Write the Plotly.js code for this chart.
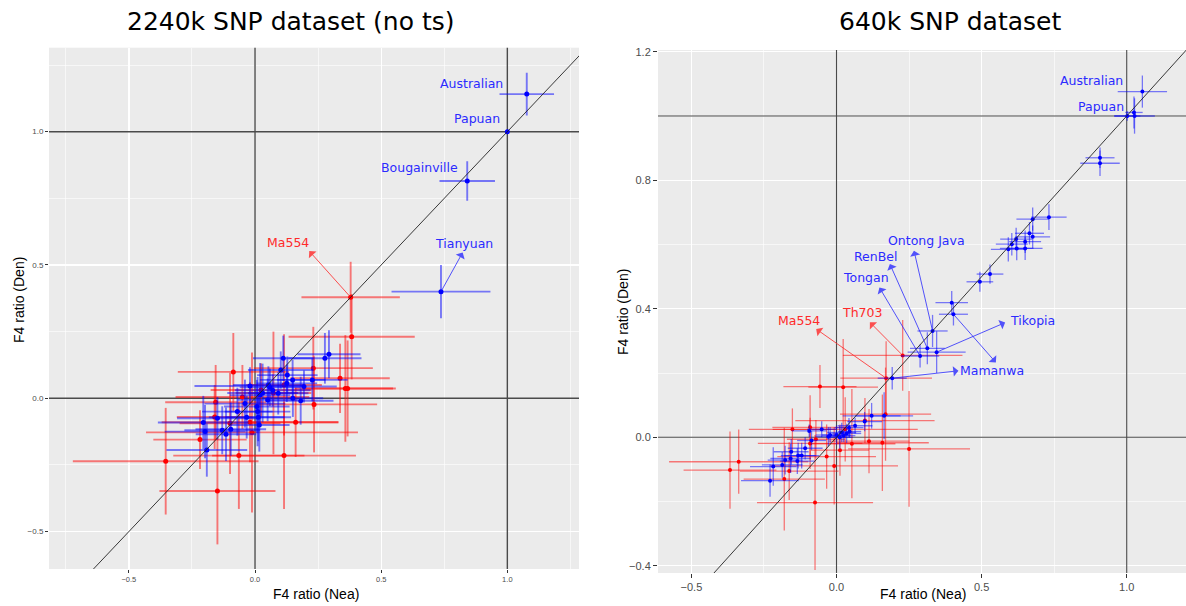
<!DOCTYPE html>
<html><head><meta charset="utf-8">
<script src="https://cdn.plot.ly/plotly-3.0.1.min.js"></script>
<style>html,body{margin:0;padding:0;background:#fff;}#chart{width:1186px;height:606px;}</style>
</head><body><div id="chart"></div>
<script>
// ---------- Left panel: 2240k SNP dataset (no ts) ----------
const leftBlueX  = [1.077, 1.0, 0.841, 0.737, 0.293, 0.277, 0.112, 0.102, 0.128, 0.149, 0.126, 0.194, 0.227, 0.181, -0.020, 0.053, 0.020, 0.050, 0.007, -0.033, -0.070, -0.149, -0.205, -0.198, -0.115, -0.096, -0.191, 0.013, 0.092, 0.059, 0.017, 0.030, -0.040, 0.010, -0.130, 0.070, 0.150];
const leftBlueY  = [1.141, 1.0, 0.815, 0.400, 0.165, 0.150, 0.150, 0.106, 0.087, 0.069, 0.056, 0.044, 0.069, -0.009, 0.046, 0.050, 0.012, -0.006, -0.031, -0.071, -0.050, -0.075, -0.091, -0.125, -0.135, -0.116, -0.194, -0.071, 0.019, 0.041, -0.100, 0.020, -0.020, -0.050, -0.120, 0.030, 0.000];
const leftBlueXE = [0.108, 0, 0.110, 0.196, 0.125, 0.145, 0.120, 0.130, 0.120, 0.130, 0.120, 0.130, 0.140, 0.130, 0.220, 0.140, 0.120, 0.120, 0.130, 0.150, 0.140, 0.160, 0.180, 0.160, 0.120, 0.140, 0.160, 0.130, 0.120, 0.120, 0.120, 0.140, 0.160, 0.130, 0.150, 0.150, 0.120];
const leftBlueYE = [0.080, 0, 0.074, 0.100, 0.090, 0.095, 0.085, 0.070, 0.070, 0.075, 0.070, 0.060, 0.080, 0.090, 0.070, 0.070, 0.120, 0.080, 0.100, 0.080, 0.090, 0.080, 0.100, 0.100, 0.100, 0.100, 0.100, 0.090, 0.080, 0.070, 0.100, 0.110, 0.090, 0.130, 0.090, 0.060, 0.070];

const leftRedX  = [0.379, 0.383, 0.358, 0.367, 0.337, 0.234, 0.231, 0.161, 0.115, -0.064, -0.086, -0.156, -0.354, -0.149, -0.218, -0.012, -0.050, 0.024, 0.115, -0.020, -0.160, 0.073, -0.099];
const leftRedY  = [0.379, 0.231, 0.037, 0.037, 0.075, -0.023, 0.113, -0.090, -0.215, -0.215, 0.099, -0.015, -0.236, -0.348, -0.155, -0.128, 0.005, 0.031, 0.050, -0.090, -0.070, 0.020, -0.094];
const leftRedXE = [0.195, 0.250, 0.200, 0.180, 0.197, 0.250, 0.236, 0.170, 0.285, 0.260, 0.220, 0.200, 0.368, 0.230, 0.185, 0.420, 0.265, 0.200, 0.150, 0.350, 0.150, 0.150, 0.200];
const leftRedYE = [0.133, 0.160, 0.200, 0.180, 0.130, 0.180, 0.155, 0.130, 0.200, 0.200, 0.146, 0.140, 0.200, 0.200, 0.110, 0.300, 0.120, 0.100, 0.190, 0.150, 0.120, 0.230, 0.190];

const leftLabelText  = ["Australian", "Papuan", "Bougainville", "Tianyuan", "Ma554"];
const leftLabelX     = [0.859, 0.881, 0.651, 0.828, 0.132];
const leftLabelY     = [1.181, 1.049, 0.866, 0.581, 0.584];
const leftLabelColor = ["blue", "blue", "blue", "blue", "red"];
// arrows: from sample point (tail) to label (head)
const leftArrowTailX = [0.379, 0.737];
const leftArrowTailY = [0.379, 0.400];
const leftArrowHeadX = [0.215, 0.823];
const leftArrowHeadY = [0.552, 0.547];
const leftArrowColor = ["red", "blue"];

// ---------- Right panel: 640k SNP dataset ----------
const rightBlueX  = [1.054, 1.002, 1.025, 1.027, 0.908, 0.908, 0.676, 0.732, 0.665, 0.676, 0.650, 0.619, 0.604, 0.592, 0.621, 0.650, 0.494, 0.529, 0.397, 0.403, 0.331, 0.313, 0.288, 0.345, 0.192, 0.164, 0.121, 0.097, 0.064, 0.043, 0.035, 0.018, 0.011, 0.000, -0.022, -0.028, -0.051, -0.086, -0.094, -0.108, -0.132, -0.120, -0.135, -0.156, -0.158, -0.177, -0.187, -0.218, -0.229, 0.025, 0.045];
const rightBlueY  = [1.076, 1.000, 1.011, 1.000, 0.870, 0.853, 0.679, 0.685, 0.635, 0.624, 0.609, 0.617, 0.601, 0.585, 0.588, 0.588, 0.484, 0.508, 0.419, 0.383, 0.331, 0.277, 0.253, 0.265, 0.184, 0.067, 0.067, 0.049, 0.036, 0.030, 0.012, 0.015, 0.000, 0.007, 0.007, 0.002, 0.025, -0.010, 0.020, -0.034, -0.057, -0.057, -0.074, -0.045, -0.066, -0.071, -0.086, -0.091, -0.135, 0.005, 0.018];
const rightBlueXE = [0.085, 0.045, 0.030, 0.070, 0.050, 0.068, 0.056, 0.061, 0.050, 0.060, 0.055, 0.055, 0.055, 0.060, 0.058, 0.060, 0.046, 0.046, 0.056, 0.050, 0.052, 0.060, 0.066, 0.100, 0.050, 0.100, 0.100, 0.060, 0.060, 0.050, 0.050, 0.050, 0.045, 0.050, 0.050, 0.045, 0.050, 0.050, 0.060, 0.060, 0.060, 0.060, 0.060, 0.060, 0.070, 0.060, 0.070, 0.080, 0.100, 0.040, 0.040];
const rightBlueYE = [0.050, 0.015, 0.050, 0.055, 0.032, 0.040, 0.036, 0.040, 0.035, 0.035, 0.035, 0.035, 0.035, 0.038, 0.037, 0.036, 0.031, 0.030, 0.036, 0.035, 0.050, 0.050, 0.036, 0.065, 0.035, 0.073, 0.040, 0.030, 0.025, 0.030, 0.030, 0.030, 0.035, 0.030, 0.025, 0.030, 0.025, 0.030, 0.020, 0.035, 0.040, 0.040, 0.040, 0.040, 0.045, 0.045, 0.040, 0.060, 0.050, 0.020, 0.020];

const rightRedX  = [0.171, 0.228, -0.057, 0.023, 0.169, 0.158, 0.112, 0.250, 0.098, 0.012, -0.008, -0.034, -0.074, -0.152, -0.091, -0.091, -0.071, -0.163, -0.180, -0.367, -0.337, 0.030, 0.053];
const rightRedY  = [0.184, 0.255, 0.158, 0.156, 0.072, -0.017, -0.012, -0.036, 0.052, -0.040, -0.089, -0.060, -0.203, 0.025, 0.031, -0.019, -0.006, -0.105, -0.130, -0.102, -0.076, 0.025, -0.020];
const rightRedXE = [0.158, 0.206, 0.126, 0.120, 0.157, 0.160, 0.140, 0.210, 0.240, 0.100, 0.220, 0.170, 0.200, 0.150, 0.130, 0.180, 0.100, 0.170, 0.140, 0.160, 0.240, 0.250, 0.150];
const rightRedYE = [0.115, 0.110, 0.067, 0.150, 0.145, 0.150, 0.100, 0.180, 0.070, 0.080, 0.120, 0.100, 0.210, 0.065, 0.100, 0.080, 0.060, 0.090, 0.160, 0.120, 0.100, 0.100, 0.170];

const rightLabelText  = ["Australian", "Papuan", "Ontong Java", "RenBel", "Tongan", "Tikopia", "Mamanwa", "Th703", "Ma554"];
const rightLabelX     = [0.878, 0.911, 0.311, 0.135, 0.101, 0.674, 0.536, 0.087, -0.128];
const rightLabelY     = [1.109, 1.031, 0.612, 0.564, 0.498, 0.365, 0.209, 0.390, 0.363];
const rightLabelColor = ["blue", "blue", "blue", "blue", "blue", "blue", "blue", "red", "red"];
const rightArrowTailX = [0.331, 0.313, 0.288, 0.345, 0.403, 0.192, 0.228, 0.171];
const rightArrowTailY = [0.331, 0.277, 0.253, 0.265, 0.383, 0.184, 0.255, 0.184];
const rightArrowHeadX = [0.267, 0.184, 0.148, 0.581, 0.549, 0.420, 0.115, -0.070];
const rightArrowHeadY = [0.581, 0.539, 0.466, 0.357, 0.233, 0.207, 0.358, 0.337];
const rightArrowColor = ["blue", "blue", "blue", "blue", "blue", "blue", "red", "red"];

const refLines = [0, 1];
const diagonal = [-3, 3];

// ---------- styles ----------
const COL = {
  red:  {pt: "#ff0000", bar: "rgba(255,0,0,0.5)", txt: "#ff2a2a", arr: "rgba(255,40,40,0.8)"},
  blue: {pt: "#0000ff", bar: "rgba(0,0,255,0.5)", txt: "#2b2bff", arr: "rgba(30,30,255,0.75)"}
};

function errTrace(x, y, xe, ye, c, xa, ya, thick, size) {
  return {
    type: "scatter", mode: "markers", x: x, y: y, xaxis: xa, yaxis: ya,
    marker: {color: COL[c].pt, size: size},
    error_x: {type: "data", array: xe, visible: true, color: COL[c].bar, thickness: thick, width: 0},
    error_y: {type: "data", array: ye, visible: true, color: COL[c].bar, thickness: thick, width: 0},
    hoverinfo: "skip", showlegend: false
  };
}

// reference lines and the y = x diagonal as line traces
function lineTrace(x, y, xa, ya, color, w) {
  return {type: "scatter", mode: "lines", x: x, y: y, xaxis: xa, yaxis: ya, cliponaxis: true,
          line: {color: color, width: w}, hoverinfo: "skip", showlegend: false};
}
function refTraces(xa, ya, w) {
  const out = [];
  refLines.forEach(v => {
    out.push(lineTrace([v, v], diagonal, xa, ya, "#4a4a4a", w));
    out.push(lineTrace(diagonal, [v, v], xa, ya, "#4a4a4a", w));
  });
  return out;
}

const data = [].concat(
  refTraces("x", "y", 1.4),
  refTraces("x2", "y2", 1.1),
  [
    errTrace(leftRedX, leftRedY, leftRedXE, leftRedYE, "red", "x", "y", 1.9, 5),
    errTrace(leftBlueX, leftBlueY, leftBlueXE, leftBlueYE, "blue", "x", "y", 1.9, 5),
    errTrace(rightRedX, rightRedY, rightRedXE, rightRedYE, "red", "x2", "y2", 1.3, 4),
    errTrace(rightBlueX, rightBlueY, rightBlueXE, rightBlueYE, "blue", "x2", "y2", 1.3, 4),
    lineTrace(diagonal, diagonal, "x", "y", "#222222", 0.9),
    lineTrace(diagonal, diagonal, "x2", "y2", "#222222", 0.9)
  ]
);

const annotations = [];
const labelFont = "DejaVu Sans, sans-serif";
function addLabels(texts, xs, ys, cols, xa, ya) {
  texts.forEach((t, i) => annotations.push({
    text: t, x: xs[i], y: ys[i], xref: xa, yref: ya, showarrow: false,
    xanchor: "center", yanchor: "middle", font: {family: labelFont, size: 12.5, color: COL[cols[i]].txt}
  }));
}
function addArrows(tx, ty, hx, hy, cols, xa, ya) {
  tx.forEach((v, i) => annotations.push({
    text: "", x: hx[i], y: hy[i], ax: tx[i], ay: ty[i], xref: xa, yref: ya, axref: xa, ayref: ya,
    showarrow: true, arrowhead: 1, arrowsize: 1.7, arrowwidth: 1, arrowcolor: COL[cols[i]].arr,
    standoff: 0, startstandoff: 0
  }));
}
addLabels(leftLabelText, leftLabelX, leftLabelY, leftLabelColor, "x", "y");
addArrows(leftArrowTailX, leftArrowTailY, leftArrowHeadX, leftArrowHeadY, leftArrowColor, "x", "y");
addLabels(rightLabelText, rightLabelX, rightLabelY, rightLabelColor, "x2", "y2");
addArrows(rightArrowTailX, rightArrowTailY, rightArrowHeadX, rightArrowHeadY, rightArrowColor, "x2", "y2");

const titleFont = {family: "DejaVu Sans, sans-serif", size: 25, color: "#000"};
const axFont = {family: "Liberation Sans, Arial, sans-serif", size: 14, color: "#000"};
function paperText(t, x, ypx, font, angle) {
  annotations.push({text: t, xref: "paper", yref: "paper", x: x / 1186, y: 1 - ypx / 606,
    showarrow: false, xanchor: "center", yanchor: "middle", font: font, textangle: angle || 0});
}
paperText("2240k SNP dataset (no ts)", 291, 21, titleFont);
paperText("640k SNP dataset", 950, 21, titleFont);
paperText("F4 ratio (Nea)", 316, 594, axFont);
paperText("F4 ratio (Nea)", 923, 594, axFont);
paperText("F4 ratio (Den)", 19, 300, axFont, -90);
paperText("F4 ratio (Den)", 623, 312, axFont, -90);

function axis(domain, range, dtick, minor, fsize, tlen, anchor) {
  return {
    domain: domain, range: range, anchor: anchor, tick0: 0, dtick: dtick, tickformat: ".1f",
    showgrid: true, gridcolor: "#ffffff", gridwidth: 1.3, zeroline: false, showline: false,
    ticks: "outside", ticklen: tlen, tickwidth: 1, tickcolor: "#333333",
    tickfont: {family: "Liberation Sans, Arial, sans-serif", size: fsize, color: "#4d4d4d"},
    minor: {dtick: minor, tick0: 0, showgrid: true, gridcolor: "#ffffff", gridwidth: 0.6, ticks: ""},
    fixedrange: true
  };
}

const layout = {
  width: 1186, height: 606, margin: {l: 0, r: 0, t: 0, b: 0},
  paper_bgcolor: "#ffffff", plot_bgcolor: "#EBEBEB", showlegend: false,
  xaxis:  axis([49 / 1186, 579 / 1186], [-0.8165, 1.284], 0.5, 0.25, 7.5, 3, "y"),
  yaxis:  axis([1 - 569 / 606, 1 - 47.7 / 606], [-0.6403, 1.315], 0.5, 0.25, 8, 3, "x"),
  xaxis2: axis([658 / 1186, 1], [-0.6151, 1.2043], 0.5, 0.25, 11, 4, "y2"),
  yaxis2: axis([1 - 573 / 606, 1 - 50 / 606], [-0.4223, 1.2054], 0.4, 0.2, 11, 4, "x2"),
  annotations: annotations
};

Plotly.newPlot("chart", data, layout, {staticPlot: true, displayModeBar: false});
</script></body></html>
